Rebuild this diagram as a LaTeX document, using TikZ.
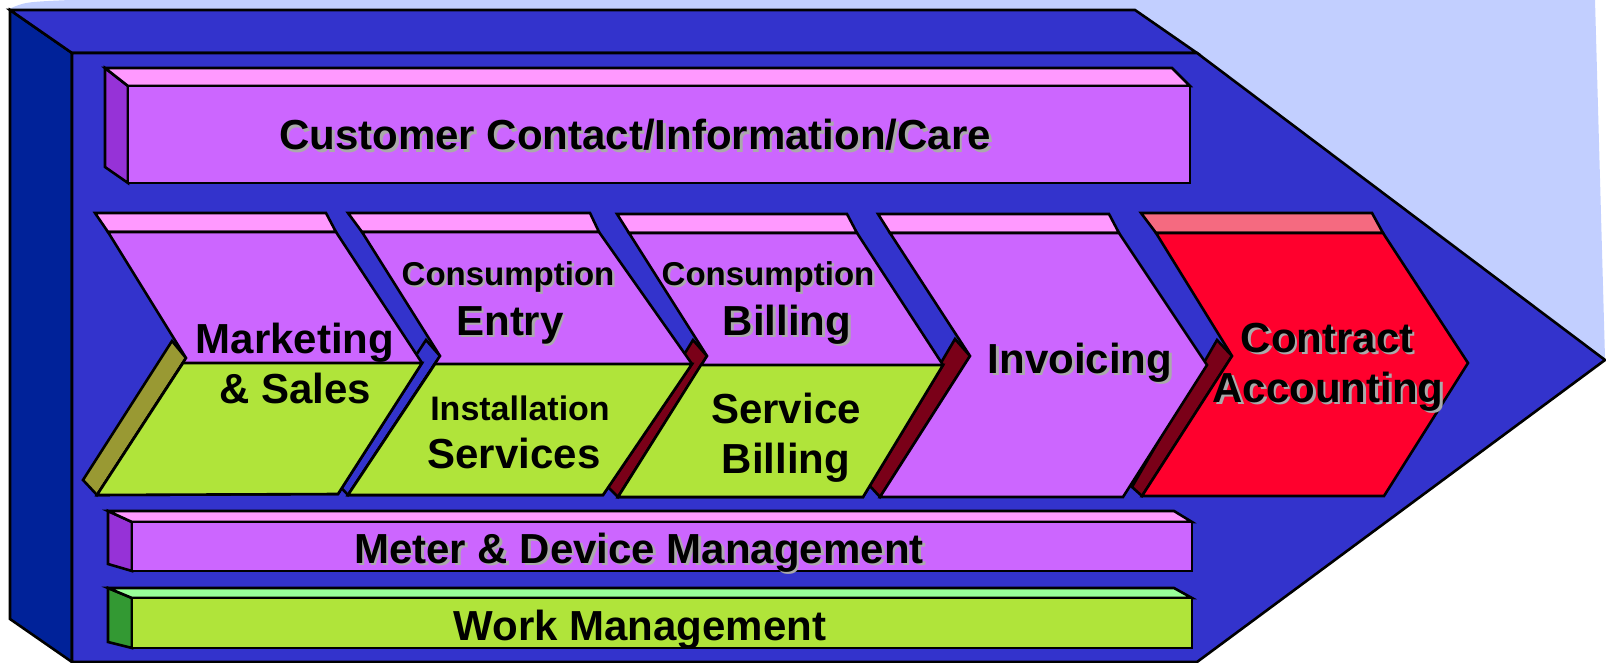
\documentclass[tikz,border=0pt]{standalone}
\usepackage{fontspec}
\setmainfont{Liberation Sans}
% palette
\definecolor{paleblue}{RGB}{194,207,255}
\definecolor{arrowblue}{RGB}{51,51,204}
\definecolor{arrowside}{RGB}{0,34,153}
\definecolor{lilac}{RGB}{204,102,255}
\definecolor{pinktop}{RGB}{255,153,255}
\definecolor{lilacside}{RGB}{150,50,215}
\definecolor{lime}{RGB}{176,228,58}
\definecolor{olive}{RGB}{153,153,51}
\definecolor{maroon}{RGB}{122,0,24}
\definecolor{signalred}{RGB}{255,0,45}
\definecolor{redtop}{RGB}{245,106,128}
\definecolor{mint}{RGB}{153,255,153}
\definecolor{leaf}{RGB}{51,153,51}
\definecolor{txtshadow}{RGB}{170,170,170}
% bold label with a soft grey drop shadow
\newcommand\shtxt[1]{\makebox[0pt][l]{\hspace*{2.5pt}\raisebox{-2.5pt}{\textcolor{txtshadow}{#1}}}#1}
\begin{document}
\begin{tikzpicture}[x=1pt,y=-1pt,
  face/.style={draw=black,line width=2.6pt,line join=miter},
  lbl/.style={anchor=base,inner sep=0pt,font=\bfseries\fontsize{42}{50}\selectfont},
  lblsm/.style={lbl,font=\bfseries\fontsize{33}{40}\selectfont}]
\useasboundingbox (0,0) rectangle (1606,663);

% backdrop behind the big arrow
\fill[paleblue] (9,9) .. controls (25,2) .. (70,0) -- (1595,0) -- (1605,358)
  -- (1197,662) -- (72,662) -- (10,619) -- cycle;

% big 3-D arrow
\filldraw[fill=arrowside,face] (10,10) -- (72,53) -- (72,662) -- (10,619) -- cycle;
\filldraw[fill=arrowblue,face] (10,10) -- (1135,10) -- (1197,53) -- (72,53) -- cycle;
\filldraw[fill=arrowblue,face] (72,53) -- (1197,53) -- (1605,360) -- (1197,662) -- (72,662) -- cycle;

% top bar
\filldraw[fill=lilacside,face] (105,68) -- (128,86) -- (128,183) -- (105,167) -- cycle;
\filldraw[fill=pinktop,face] (105,68) -- (1172,68) -- (1190,86) -- (128,86) -- cycle;
\filldraw[fill=lilac,face] (128,86) rectangle (1190,183);

% meter bar
\filldraw[fill=lilacside,face] (108,511) -- (132,522) -- (132,571) -- (108,564) -- cycle;
\filldraw[fill=pinktop,face] (108,511) -- (1174,511) -- (1192,522) -- (132,522) -- cycle;
\filldraw[fill=lilac,face] (132,522) rectangle (1192,571);

% work bar
\filldraw[fill=leaf,face] (108,588) -- (132,598) -- (132,648) -- (108,642) -- cycle;
\filldraw[fill=mint,face] (108,588) -- (1174,588) -- (1192,598) -- (132,598) -- cycle;
\filldraw[fill=lime,face] (132,598) rectangle (1192,648);

% chevron side faces
\filldraw[fill=olive,face] (186,358) -- (172,341) -- (83,480) -- (97,495) -- cycle;
\filldraw[fill=arrowblue,face] (440,356) -- (426,340) -- (334,480) -- (348,495) -- cycle;
\filldraw[fill=maroon,face] (707,356) -- (693,340) -- (605,484) -- (618,497) -- cycle;
\filldraw[fill=maroon,face] (970,356) -- (955,339) -- (869,485) -- (880,497) -- cycle;
\filldraw[fill=maroon,face] (1232,356) -- (1217,340) -- (1132,487) -- (1142,496) -- cycle;

% chevron top faces
\filldraw[fill=pinktop,face] (95,213) -- (326,213) -- (336,232) -- (108,232) -- cycle;
\filldraw[fill=pinktop,face] (348,213) -- (590,213) -- (599,232) -- (362,232) -- cycle;
\filldraw[fill=pinktop,face] (617,214) -- (847,214) -- (857,233) -- (629,233) -- cycle;
\filldraw[fill=pinktop,face] (878,214) -- (1109,214) -- (1119,233) -- (890,233) -- cycle;
\filldraw[fill=redtop,face] (1141,213) -- (1372,213) -- (1383,233) -- (1156,233) -- cycle;

% chevron fronts
\filldraw[fill=lilac,face] (108,232) -- (336,232) -- (422,363) -- (338,494) -- (97,495) -- (186,358) -- cycle;
\filldraw[fill=lime,face] (183,363) -- (422,363) -- (338,494) -- (97,495) -- cycle;

\filldraw[fill=lilac,face] (362,232) -- (599,232) -- (692,364) -- (603,495) -- (348,495) -- (440,356) -- cycle;
\filldraw[fill=lime,face] (435,364) -- (692,364) -- (603,495) -- (348,495) -- cycle;

\filldraw[fill=lilac,face] (629,233) -- (857,233) -- (943,365) -- (863,497) -- (618,497) -- (707,356) -- cycle;
\filldraw[fill=lime,face] (701,365) -- (943,365) -- (863,497) -- (618,497) -- cycle;

\filldraw[fill=lilac,face] (890,233) -- (1119,233) -- (1207,365) -- (1123,497) -- (880,497) -- (970,356) -- cycle;

\filldraw[fill=signalred,face] (1156,233) -- (1383,233) -- (1468,363) -- (1384,496) -- (1142,496) -- (1232,356) -- cycle;

% labels
\node[lbl,anchor=base west] (care) at (279,150) {\shtxt{Customer Contact/Information/Care}};
\node[lbl] (mkt1) at (295,353) {Marketing};
\node[lbl] (mkt2) at (295,403) {\& Sales};
\node[lblsm] (ent1) at (508,285) {\shtxt{Consumption}};
\node[lbl] (ent2) at (510,335) {\shtxt{Entry}};
\node[lblsm,font=\bfseries\fontsize{34}{40}\selectfont] (ins1) at (520,420) {Installation};
\node[lbl] (ins2) at (514,468) {Services};
\node[lblsm] (cb1) at (768,285) {\shtxt{Consumption}};
\node[lbl] (cb2) at (787,335) {\shtxt{Billing}};
\node[lbl] (sb1) at (786,423) {Service};
\node[lbl] (sb2) at (786,473) {Billing};
\node[lbl] (inv) at (1080,373) {\shtxt{Invoicing}};
\node[lbl] (ca1) at (1327,352) {\shtxt{Contract}};
\node[lbl] (ca2) at (1328,402) {\shtxt{Accounting}};
\node[lbl] (mdm) at (639,563) {\shtxt{Meter \& Device Management}};
\node[lbl] (wm) at (640,640) {Work Management};
\end{tikzpicture}
\end{document}
